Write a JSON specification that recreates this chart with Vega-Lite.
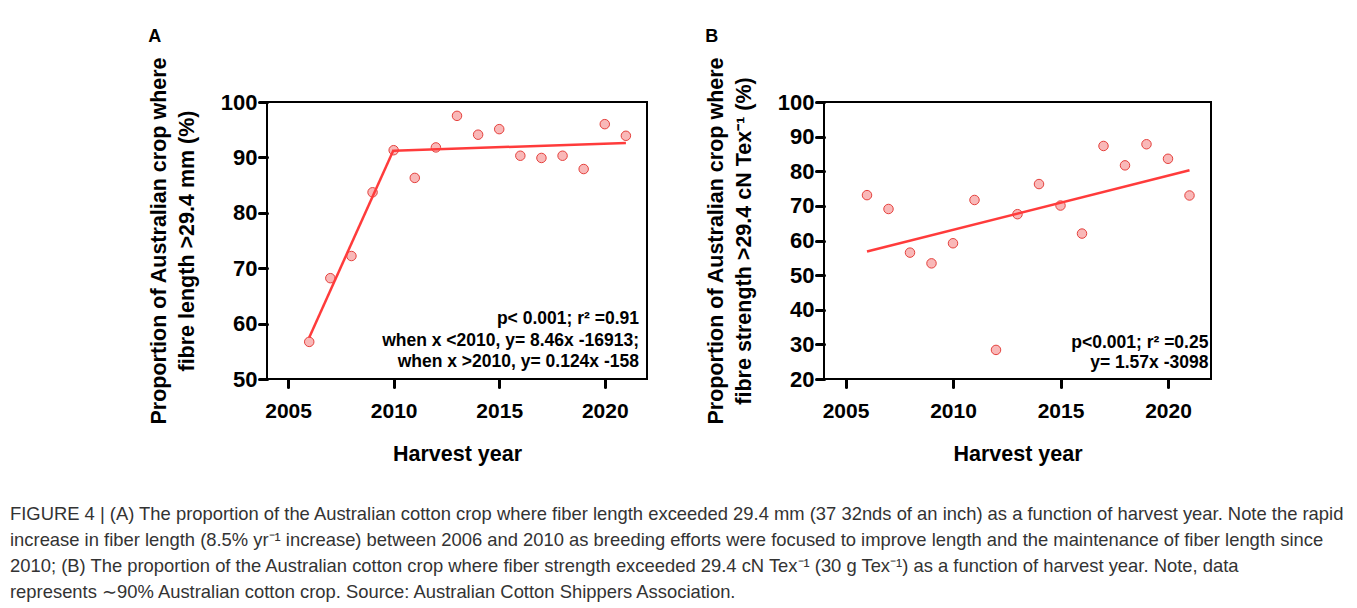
{
  "$schema": "https://vega.github.io/schema/vega-lite/v6.json",
  "padding": {"left": 10, "top": 26, "right": 5, "bottom": 5},
  "datasets": {
    "length": [
      {"year": 2006, "pct": 56.7}, {"year": 2007, "pct": 68.2}, {"year": 2008, "pct": 72.2},
      {"year": 2009, "pct": 83.7}, {"year": 2010, "pct": 91.3}, {"year": 2011, "pct": 86.3},
      {"year": 2012, "pct": 91.8}, {"year": 2013, "pct": 97.5}, {"year": 2014, "pct": 94.1},
      {"year": 2015, "pct": 95.1}, {"year": 2016, "pct": 90.3}, {"year": 2017, "pct": 89.9},
      {"year": 2018, "pct": 90.3}, {"year": 2019, "pct": 87.9}, {"year": 2020, "pct": 96.0},
      {"year": 2021, "pct": 93.9}
    ],
    "fitA": [
      {"year": 2006, "pct": 57.5, "seg": "a"}, {"year": 2010, "pct": 91.4, "seg": "a"},
      {"year": 2010, "pct": 91.2, "seg": "b"}, {"year": 2021, "pct": 92.6, "seg": "b"}
    ],
    "strength": [
      {"year": 2006, "pct": 73.1}, {"year": 2007, "pct": 69.1}, {"year": 2008, "pct": 56.5},
      {"year": 2009, "pct": 53.4}, {"year": 2010, "pct": 59.2}, {"year": 2011, "pct": 71.7},
      {"year": 2012, "pct": 28.4}, {"year": 2013, "pct": 67.6}, {"year": 2014, "pct": 76.3},
      {"year": 2015, "pct": 70.1}, {"year": 2016, "pct": 62.0}, {"year": 2017, "pct": 87.3},
      {"year": 2018, "pct": 81.7}, {"year": 2019, "pct": 87.8}, {"year": 2020, "pct": 83.6},
      {"year": 2021, "pct": 73.0}
    ],
    "fitB": [
      {"year": 2006, "pct": 56.8}, {"year": 2021, "pct": 80.3}
    ]
  },
  "title": {
    "text": [
      "FIGURE 4 | (A) The proportion of the Australian cotton crop where fiber length exceeded 29.4 mm (37 32nds of an inch) as a function of harvest year. Note the rapid",
      "increase in fiber length (8.5% yr⁻¹ increase) between 2006 and 2010 as breeding efforts were focused to improve length and the maintenance of fiber length since",
      "2010; (B) The proportion of the Australian cotton crop where fiber strength exceeded 29.4 cN Tex⁻¹ (30 g Tex⁻¹) as a function of harvest year. Note, data",
      "represents ∼90% Australian cotton crop. Source: Australian Cotton Shippers Association."
    ],
    "orient": "bottom",
    "anchor": "start",
    "frame": "group",
    "offset": 39,
    "dx": -257,
    "font": "Liberation Sans",
    "fontSize": 18.4,
    "fontWeight": "normal",
    "color": "#333333",
    "lineHeight": 26
  },
  "spacing": 56,
  "hconcat": [
    {
      "width": 380,
      "height": 277,
      "title": {"text": "A", "anchor": "start", "frame": "bounds", "fontSize": 18, "fontWeight": "bold", "font": "Liberation Sans", "color": "black", "offset": 11},
      "layer": [
        {
          "data": {"name": "length"},
          "mark": {"type": "point", "shape": "circle", "filled": true, "fill": "#f9b8b8", "stroke": "#e5413d", "strokeWidth": 1, "size": 90, "opacity": 1},
          "encoding": {
            "x": {"field": "year", "type": "quantitative", "scale": {"domain": [2004, 2022], "nice": false, "zero": false},
                  "axis": {"title": "Harvest year", "values": [2005, 2010, 2015, 2020], "format": "d"}},
            "y": {"field": "pct", "type": "quantitative", "scale": {"domain": [50, 100], "nice": false, "zero": false},
                  "axis": {"title": ["Proportion of Australian crop where", "fibre length >29.4 mm (%)"], "values": [50, 60, 70, 80, 90, 100]}}
          }
        },
        {
          "data": {"name": "fitA"},
          "mark": {"type": "line", "color": "#ff3b3b", "strokeWidth": 2.5},
          "encoding": {
            "x": {"field": "year", "type": "quantitative"},
            "y": {"field": "pct", "type": "quantitative",
                  "axis": {"title": ["Proportion of Australian crop where", "fibre length >29.4 mm (%)"], "values": [50, 60, 70, 80, 90, 100]}},
            "detail": {"field": "seg"}
          }
        },
        {
          "data": {"values": [{}]},
          "mark": {"type": "text", "align": "right", "baseline": "middle", "font": "Liberation Sans", "fontSize": 17.5, "fontWeight": "bold", "color": "black", "lineHeight": 21.5,
                   "text": ["p< 0.001; r² =0.91", "when x <2010, y= 8.46x -16913;", "when x >2010, y= 0.124x -158"]},
          "encoding": {
            "x": {"datum": 2021.62, "type": "quantitative"},
            "y": {"datum": 60.8, "type": "quantitative",
                  "axis": {"title": ["Proportion of Australian crop where", "fibre length >29.4 mm (%)"], "values": [50, 60, 70, 80, 90, 100]}}
          }
        }
      ]
    },
    {
      "width": 387,
      "height": 277,
      "title": {"text": "B", "anchor": "start", "frame": "bounds", "fontSize": 18, "fontWeight": "bold", "font": "Liberation Sans", "color": "black", "offset": 11},
      "layer": [
        {
          "data": {"name": "strength"},
          "mark": {"type": "point", "shape": "circle", "filled": true, "fill": "#f9b8b8", "stroke": "#e5413d", "strokeWidth": 1, "size": 90, "opacity": 1},
          "encoding": {
            "x": {"field": "year", "type": "quantitative", "scale": {"domain": [2004, 2022], "nice": false, "zero": false},
                  "axis": {"title": "Harvest year", "values": [2005, 2010, 2015, 2020], "format": "d"}},
            "y": {"field": "pct", "type": "quantitative", "scale": {"domain": [20, 100], "nice": false, "zero": false},
                  "axis": {"title": ["Proportion of Australian crop where", "fibre strength >29.4 cN Tex⁻¹ (%)"], "values": [20, 30, 40, 50, 60, 70, 80, 90, 100]}}
          }
        },
        {
          "data": {"name": "fitB"},
          "mark": {"type": "line", "color": "#ff3b3b", "strokeWidth": 2.5},
          "encoding": {
            "x": {"field": "year", "type": "quantitative"},
            "y": {"field": "pct", "type": "quantitative",
                  "axis": {"title": ["Proportion of Australian crop where", "fibre strength >29.4 cN Tex⁻¹ (%)"], "values": [20, 30, 40, 50, 60, 70, 80, 90, 100]}}
          }
        },
        {
          "data": {"values": [{}]},
          "mark": {"type": "text", "align": "right", "baseline": "middle", "font": "Liberation Sans", "fontSize": 17.5, "fontWeight": "bold", "color": "black", "lineHeight": 20,
                   "text": ["p<0.001; r² =0.25", "y= 1.57x -3098"]},
          "encoding": {
            "x": {"datum": 2021.88, "type": "quantitative"},
            "y": {"datum": 30.4, "type": "quantitative",
                  "axis": {"title": ["Proportion of Australian crop where", "fibre strength >29.4 cN Tex⁻¹ (%)"], "values": [20, 30, 40, 50, 60, 70, 80, 90, 100]}}
          }
        }
      ]
    }
  ],
  "config": {
    "view": {"stroke": "black", "strokeWidth": 2},
    "axis": {
      "domain": false, "grid": false,
      "tickColor": "black", "tickWidth": 3, "tickSize": 8, "tickCap": "round",
      "labelFont": "Liberation Sans", "labelFontSize": 21, "labelFontWeight": "bold", "labelColor": "black",
      "titleFont": "Liberation Sans", "titleFontSize": 21.5, "titleFontWeight": "bold", "titleColor": "black"
    },
    "axisX": {"labelPadding": 13, "titlePadding": 22},
    "axisY": {"labelPadding": 2, "labelFontSize": 22, "titlePadding": 22, "titleLineHeight": 28}
  }
}
